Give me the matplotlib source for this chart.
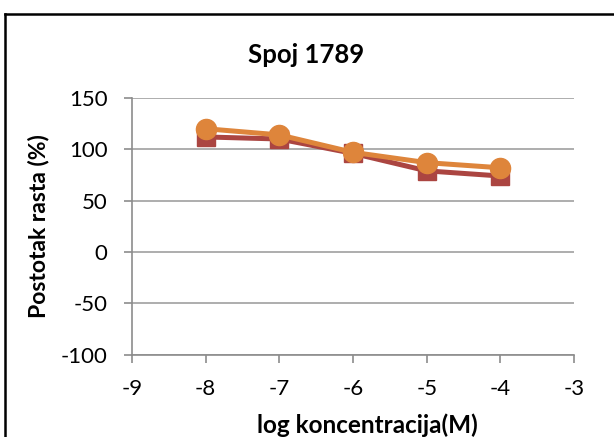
import matplotlib.pyplot as plt
from matplotlib.lines import Line2D

plt.rcParams['font.family'] = ['Lato', 'DejaVu Sans']
plt.rcParams['axes.unicode_minus'] = False

log_conc = [-8, -7, -6, -5, -4]
series_red = [112, 110, 96, 79, 74]
series_orange = [120, 114, 97, 87, 82]
x_ticks = [-9, -8, -7, -6, -5, -4, -3]
y_ticks = [-100, -50, 0, 50, 100, 150]


def plot_chart():
    fig = plt.figure(figsize=(6.14, 4.37), dpi=100)
    ax = fig.add_axes([0.215, 0.188, 0.72, 0.588])

    ax.plot(log_conc, series_red, color='#AB4541', linewidth=3.6,
            marker='s', markersize=13.5, zorder=3)
    ax.plot(log_conc, series_orange, color='#DE853B', linewidth=3.6,
            marker='o', markersize=14.5, zorder=4)

    ax.set_xlim(-9, -3)
    ax.set_ylim(-100, 150)
    ax.set_xticks(x_ticks)
    ax.set_yticks(y_ticks)
    ax.tick_params(labelsize=16, length=5.5, color='#8C8C8C', width=1.2)
    ax.tick_params(axis='y', pad=12)
    ax.tick_params(axis='x', pad=12)

    ax.grid(axis='y', color='#A0A0A0', linewidth=1.2)
    ax.set_axisbelow(True)
    for side in ['top', 'right']:
        ax.spines[side].set_visible(False)
    for side in ['left', 'bottom']:
        ax.spines[side].set_color('#8C8C8C')
        ax.spines[side].set_linewidth(1.2)

    fig.text(0.498, 0.874, 'Spoj 1789', ha='center', va='center',
             fontsize=18.5, fontweight='bold')
    fig.text(0.598, 0.026, 'log koncentracija(M)', ha='center', va='center',
             fontsize=17.5, fontweight='bold')
    fig.text(0.062, 0.482, 'Postotak rasta (%)', ha='center', va='center',
             rotation=90, fontsize=16.5, fontweight='bold')

    # chart frame (top and left edges visible)
    fig.add_artist(Line2D([5 / 614, 1], [1 - 14 / 437, 1 - 14 / 437],
                          color='black', linewidth=1.8, transform=fig.transFigure))
    fig.add_artist(Line2D([5 / 614, 5 / 614], [0, 1 - 14 / 437],
                          color='black', linewidth=1.8, transform=fig.transFigure))

    fig.savefig('out.png', dpi=100)


if __name__ == "__main__":
    plot_chart()
